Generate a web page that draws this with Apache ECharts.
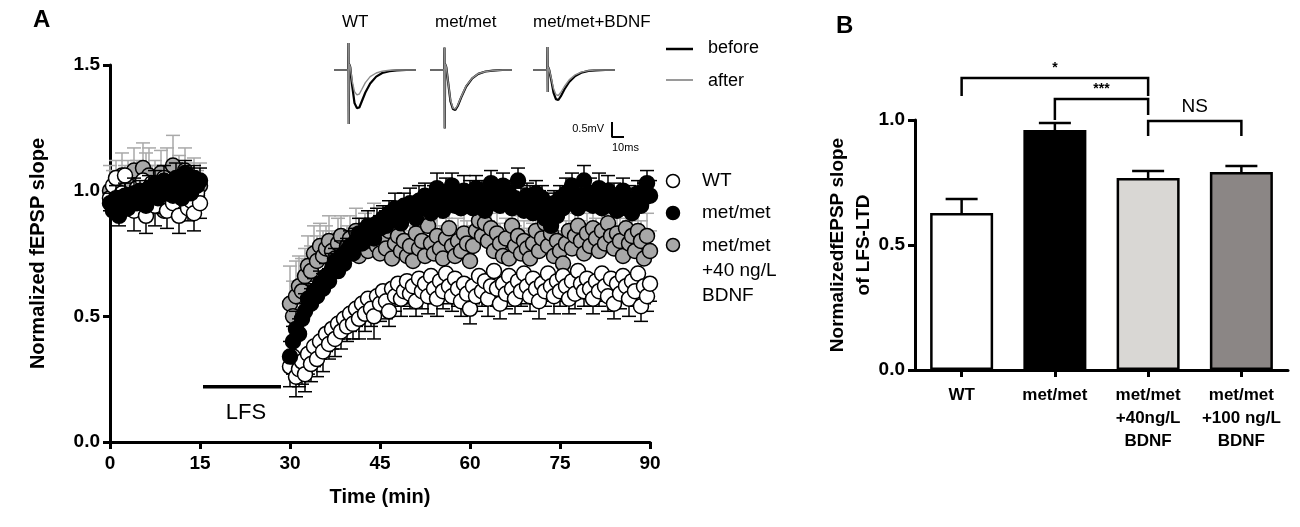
<!DOCTYPE html>
<html>
<head>
<meta charset="utf-8">
<script src="https://cdn.jsdelivr.net/npm/echarts@6.0.0/dist/echarts.min.js"></script>
<style>
html,body{margin:0;padding:0;background:#fff;}
#main{width:1300px;height:527px;}
</style>
</head>
<body>
<div id="main"></div>
<script>
// ---- panel A: time course, one sample every 30 s ----
var baseTimes = [0,0.5,1,1.5,2,2.5,3,3.5,4,4.5,5,5.5,6,6.5,7,7.5,8,8.5,9,9.5,
  10,10.5,11,11.5,12,12.5,13,13.5,14,14.5,15];
var postTimes = [30,30.5,31,31.5,32,32.5,33,33.5,34,34.5,35,35.5,36,36.5,37,37.5,38,38.5,39,39.5,
  40,40.5,41,41.5,42,42.5,43,43.5,44,44.5,45,45.5,46,46.5,47,47.5,48,48.5,49,49.5,
  50,50.5,51,51.5,52,52.5,53,53.5,54,54.5,55,55.5,56,56.5,57,57.5,58,58.5,59,59.5,
  60,60.5,61,61.5,62,62.5,63,63.5,64,64.5,65,65.5,66,66.5,67,67.5,68,68.5,69,69.5,
  70,70.5,71,71.5,72,72.5,73,73.5,74,74.5,75,75.5,76,76.5,77,77.5,78,78.5,79,79.5,
  80,80.5,81,81.5,82,82.5,83,83.5,84,84.5,85,85.5,86,86.5,87,87.5,88,88.5,89,89.5,90];

var wtBase = [0.97,1.02,1.05,0.93,0.99,1.06,0.95,0.98,0.92,1.01,0.96,1.04,0.90,0.99,1.03,0.94,
  1.00,0.97,1.05,0.92,0.98,0.95,1.02,0.90,0.97,1.01,0.93,0.96,0.91,0.99,0.95];
var metBase = [0.95,0.92,0.97,0.90,0.94,0.98,0.93,0.96,0.99,0.95,1.00,0.97,0.94,1.01,0.98,1.03,
  0.97,1.00,1.04,0.99,1.02,0.98,1.05,1.01,0.97,1.07,1.03,0.99,1.05,1.02,1.04];
var bdnfBase = [1.00,0.96,1.04,0.93,1.06,0.99,1.02,0.95,1.08,1.01,0.97,1.09,1.03,1.06,0.94,1.02,
  0.98,1.07,0.92,1.04,0.99,1.10,0.96,1.03,0.93,1.08,1.00,0.95,1.05,0.98,1.02];

var wtBaseErr = [0.05,0.06,0.05,0.07,0.05,0.06,0.05,0.06,0.08,0.05,0.06,0.05,0.07,0.05,0.06,0.08,
  0.05,0.06,0.05,0.07,0.06,0.05,0.06,0.07,0.05,0.06,0.05,0.06,0.07,0.05,0.06];
var metBaseErr = [0.04,0.05,0.05,0.04,0.06,0.05,0.04,0.05,0.06,0.05,0.04,0.05,0.06,0.05,0.06,0.05,
  0.04,0.05,0.06,0.05,0.04,0.05,0.06,0.05,0.04,0.05,0.06,0.05,0.05,0.04,0.05];
var bdnfBaseErr = [0.10,0.12,0.08,0.10,0.09,0.11,0.10,0.12,0.09,0.11,0.13,0.10,0.12,0.11,0.16,0.10,
  0.12,0.09,0.11,0.13,0.10,0.12,0.09,0.11,0.10,0.09,0.11,0.10,0.08,0.10,0.09];

var wtPost = [0.30,0.34,0.26,0.29,0.32,0.27,0.35,0.31,0.38,0.33,
  0.40,0.36,0.43,0.39,0.45,0.41,0.47,0.44,0.49,0.46,
  0.51,0.47,0.53,0.49,0.55,0.51,0.57,0.53,0.50,0.58,
  0.55,0.60,0.56,0.52,0.61,0.58,0.63,0.57,0.60,0.64,
  0.59,0.62,0.56,0.65,0.60,0.63,0.58,0.66,0.61,0.57,
  0.64,0.60,0.67,0.62,0.58,0.65,0.61,0.56,0.63,0.59,
  0.53,0.62,0.58,0.66,0.60,0.64,0.57,0.62,0.68,0.61,
  0.55,0.63,0.59,0.66,0.61,0.57,0.64,0.60,0.67,0.62,
  0.58,0.65,0.61,0.56,0.63,0.60,0.67,0.62,0.58,0.64,
  0.60,0.66,0.62,0.57,0.64,0.59,0.68,0.63,0.60,0.65,
  0.61,0.57,0.64,0.60,0.67,0.62,0.58,0.65,0.55,0.63,
  0.59,0.66,0.62,0.57,0.64,0.60,0.67,0.54,0.62,0.58,
  0.63];
var metPost = [0.34,0.40,0.45,0.43,0.49,0.52,0.57,0.55,0.60,0.58,
  0.63,0.61,0.66,0.64,0.69,0.72,0.68,0.74,0.71,0.76,
  0.78,0.75,0.80,0.83,0.79,0.82,0.86,0.84,0.81,0.87,
  0.85,0.89,0.86,0.91,0.88,0.93,0.90,0.87,0.94,0.91,
  0.95,0.92,0.89,0.96,0.93,0.98,0.94,0.91,0.97,1.01,
  0.95,0.92,0.99,0.96,1.02,0.94,0.97,0.93,1.00,0.96,
  0.98,0.93,1.01,0.95,0.99,0.92,0.97,1.03,0.95,0.98,
  0.94,1.02,0.96,0.99,0.93,0.97,1.04,0.95,0.92,0.98,
  0.96,0.91,0.99,0.94,0.97,0.89,0.93,0.86,0.95,0.90,
  0.97,0.93,0.99,0.95,1.02,0.96,0.93,0.98,1.04,0.95,
  0.99,0.94,0.97,1.01,0.93,0.96,1.00,0.94,0.98,0.92,
  0.96,1.00,0.93,0.97,0.91,0.95,0.99,0.94,0.97,1.03,
  0.98];
var bdnfPost = [0.55,0.50,0.58,0.62,0.60,0.66,0.70,0.68,0.75,0.72,
  0.78,0.74,0.77,0.80,0.76,0.73,0.79,0.82,0.75,0.78,
  0.81,0.77,0.84,0.74,0.79,0.83,0.76,0.80,0.86,0.78,
  0.75,0.81,0.77,0.84,0.73,0.79,0.82,0.76,0.80,0.74,
  0.78,0.72,0.83,0.77,0.80,0.74,0.86,0.79,0.75,0.82,
  0.77,0.73,0.81,0.85,0.78,0.74,0.80,0.76,0.83,0.79,
  0.72,0.78,0.84,0.88,0.82,0.87,0.80,0.85,0.76,0.83,
  0.79,0.74,0.81,0.73,0.86,0.78,0.82,0.75,0.80,0.77,
  0.73,0.79,0.84,0.76,0.81,0.87,0.78,0.83,0.74,0.80,
  0.76,0.71,0.79,0.84,0.77,0.82,0.86,0.80,0.75,0.83,
  0.78,0.85,0.81,0.76,0.84,0.79,0.87,0.82,0.77,0.83,
  0.80,0.74,0.85,0.79,0.82,0.76,0.84,0.80,0.73,0.82,
  0.76];

var wtPostErr = [0.08,0.07,0.08,0.07,0.09,0.07,0.08,0.07,0.08,0.07,
  0.07,0.08,0.07,0.06,0.08,0.07,0.06,0.07,0.08,0.06,
  0.07,0.06,0.07,0.08,0.06,0.07,0.06,0.07,0.09,0.06,
  0.07,0.06,0.07,0.06,0.07,0.06,0.06,0.07,0.06,0.07,
  0.06,0.07,0.06,0.06,0.07,0.06,0.07,0.06,0.06,0.07,
  0.06,0.07,0.06,0.07,0.06,0.06,0.07,0.06,0.07,0.06,
  0.06,0.07,0.06,0.07,0.06,0.06,0.07,0.06,0.06,0.07,
  0.06,0.07,0.06,0.06,0.07,0.06,0.07,0.06,0.06,0.07,
  0.06,0.07,0.06,0.07,0.06,0.06,0.07,0.06,0.07,0.06,
  0.06,0.07,0.06,0.06,0.07,0.06,0.07,0.06,0.06,0.07,
  0.07,0.06,0.07,0.06,0.07,0.06,0.06,0.07,0.06,0.07,
  0.06,0.07,0.06,0.07,0.06,0.06,0.07,0.06,0.07,0.06,
  0.07];
var metPostErr = [0.06,0.06,0.07,0.06,0.06,0.07,0.06,0.06,0.05,0.06,
  0.05,0.06,0.05,0.05,0.06,0.05,0.05,0.06,0.05,0.05,
  0.06,0.05,0.05,0.06,0.05,0.05,0.06,0.05,0.05,0.06,
  0.05,0.05,0.06,0.05,0.05,0.06,0.05,0.06,0.05,0.05,
  0.06,0.05,0.05,0.06,0.05,0.05,0.06,0.05,0.05,0.06,
  0.05,0.05,0.06,0.05,0.05,0.06,0.05,0.05,0.06,0.05,
  0.06,0.05,0.05,0.06,0.05,0.05,0.06,0.05,0.05,0.06,
  0.05,0.05,0.06,0.05,0.05,0.06,0.05,0.06,0.05,0.05,
  0.06,0.05,0.05,0.06,0.05,0.05,0.06,0.05,0.05,0.06,
  0.05,0.05,0.06,0.05,0.05,0.06,0.05,0.05,0.06,0.05,
  0.06,0.05,0.05,0.06,0.05,0.05,0.06,0.05,0.05,0.06,
  0.05,0.05,0.06,0.05,0.05,0.06,0.05,0.05,0.06,0.05,
  0.06];
var bdnfPostErr = [0.15,0.14,0.14,0.12,0.13,0.11,0.12,0.10,0.11,0.10,
  0.09,0.10,0.09,0.10,0.08,0.09,0.10,0.08,0.09,0.08,
  0.09,0.08,0.09,0.08,0.10,0.08,0.09,0.08,0.09,0.08,
  0.08,0.09,0.08,0.09,0.08,0.08,0.09,0.08,0.08,0.09,
  0.08,0.09,0.08,0.08,0.09,0.08,0.08,0.09,0.08,0.08,
  0.09,0.08,0.08,0.09,0.08,0.08,0.09,0.08,0.08,0.09,
  0.08,0.08,0.09,0.08,0.08,0.09,0.08,0.08,0.09,0.08,
  0.08,0.09,0.08,0.08,0.09,0.08,0.08,0.09,0.08,0.08,
  0.09,0.08,0.08,0.09,0.08,0.08,0.09,0.08,0.08,0.09,
  0.08,0.08,0.09,0.08,0.08,0.09,0.08,0.08,0.09,0.08,
  0.08,0.09,0.08,0.08,0.09,0.08,0.08,0.09,0.08,0.08,
  0.09,0.08,0.08,0.09,0.08,0.08,0.09,0.08,0.08,0.09,
  0.08];

var lfsStart = 15.5, lfsEnd = 28.5, lfsLevel = 0.22;

// ---- inset traces (ms, mV) ----
var traceTime = [0,8,11.8,12,12.2,12.6,13.5,15,17,19,21,23,26,30,35,40,46,52,60,68];
var wtBefore   = [0,0,0,0.90,-1.80,0.20,0.10,-0.50,-1.10,-1.27,-1.25,-1.05,-0.75,-0.45,-0.22,-0.10,-0.04,-0.01,0,0];
var wtAfter    = [0,0,0,0.90,-1.80,0.20,0.10,-0.35,-0.72,-0.83,-0.80,-0.65,-0.42,-0.22,-0.10,-0.04,-0.01,0,0,0];
var metBefore  = [0,0,0,0.75,-1.95,0.20,0.10,-0.40,-1.05,-1.30,-1.33,-1.20,-0.90,-0.55,-0.28,-0.13,-0.05,-0.02,0,0];
var metAfter   = [0,0,0,0.75,-1.95,0.20,0.10,-0.40,-1.00,-1.27,-1.30,-1.17,-0.88,-0.53,-0.27,-0.12,-0.05,-0.02,0,0];
var bdnfBefore = [0,0,0,0.77,-0.73,0.10,0,-0.30,-0.75,-0.97,-1.00,-0.88,-0.65,-0.40,-0.20,-0.09,-0.03,-0.01,0,0];
var bdnfAfter  = [0,0,0,0.77,-0.73,0.10,0,-0.25,-0.62,-0.82,-0.85,-0.75,-0.55,-0.33,-0.16,-0.07,-0.02,0,0,0];
var scaleBar = [[0, 0.5], [0, 0], [10, 0]];

// ---- panel B: LFS-LTD ----
var groups = ['WT', 'met/met', 'met/met\n+40ng/L\nBDNF', 'met/met\n+100 ng/L\nBDNF'];
var ltdMean = [0.628, 0.960, 0.768, 0.792];
var ltdSem  = [0.056, 0.028, 0.028, 0.024];
var barColors = ['#ffffff', '#000000', '#d9d7d4', '#8b8685'];
var bracketFrom  = [0, 1, 2];
var bracketTo    = [2, 2, 3];
var bracketTop   = [1.168, 1.084, 0.996];
var bracketLeft  = [1.096, 1.000, 0.936];
var bracketRight = [1.096, 1.020, 0.936];
var bracketText  = ['*', '***', 'NS'];

var FONT = '"Liberation Sans", Arial, sans-serif';

function pairs(xs, ys) {
  return xs.map(function (x, i) { return [x, ys[i]]; });
}
function triples(xs, ys, es) {
  return xs.map(function (x, i) { return [x, ys[i], es[i]]; });
}

// vertical error bar with a cap, dir 1 = up, -1 = down
function errBars(dir, color, capHalf, width) {
  return function (params, api) {
    var x = api.value(0), y = api.value(1), e = api.value(2);
    var p0 = api.coord([x, y]);
    var p1 = api.coord([x, y + dir * e]);
    return {
      type: 'group',
      children: [
        { type: 'line', shape: { x1: p0[0], y1: p0[1], x2: p1[0], y2: p1[1] },
          style: { stroke: color, lineWidth: width } },
        { type: 'line', shape: { x1: p1[0] - capHalf, y1: p1[1], x2: p1[0] + capHalf, y2: p1[1] },
          style: { stroke: color, lineWidth: width } }
      ]
    };
  };
}

var allTimes = baseTimes.concat(postTimes);
var wtAll = wtBase.concat(wtPost), wtErrAll = wtBaseErr.concat(wtPostErr);
var metAll = metBase.concat(metPost), metErrAll = metBaseErr.concat(metPostErr);
var bdnfAll = bdnfBase.concat(bdnfPost), bdnfErrAll = bdnfBaseErr.concat(bdnfPostErr);

var tickBlack = { show: true, length: 7, lineStyle: { color: '#000', width: 3 } };
var traceLefts = [334, 430, 533];
var SYM = 15;

var myChart = echarts.init(document.getElementById('main'));

var series = [];
// panel A: gray first, then WT, then met/met on top
series.push({ type: 'custom', xAxisIndex: 0, yAxisIndex: 0, renderItem: errBars(1, '#a9a9a9', 7, 1.5),
  data: triples(allTimes, bdnfAll, bdnfErrAll), encode: { x: 0, y: 1 }, z: 2 });
series.push({ type: 'scatter', name: 'met/met +40 ng/L BDNF', xAxisIndex: 0, yAxisIndex: 0,
  data: pairs(allTimes, bdnfAll), symbolSize: SYM,
  itemStyle: { color: '#a8a8a8', borderColor: '#000', borderWidth: 1.5, opacity: 1 }, z: 3 });
series.push({ type: 'custom', xAxisIndex: 0, yAxisIndex: 0, renderItem: errBars(-1, '#000', 7, 1.5),
  data: triples(allTimes, wtAll, wtErrAll), encode: { x: 0, y: 1 }, z: 4 });
series.push({ type: 'scatter', name: 'WT', xAxisIndex: 0, yAxisIndex: 0,
  data: pairs(allTimes, wtAll), symbolSize: SYM,
  itemStyle: { color: '#fff', borderColor: '#000', borderWidth: 1.5, opacity: 1 }, z: 5 });
series.push({ type: 'custom', xAxisIndex: 0, yAxisIndex: 0, renderItem: errBars(1, '#000', 7, 1.5),
  data: triples(allTimes, metAll, metErrAll), encode: { x: 0, y: 1 }, z: 6 });
series.push({ type: 'scatter', name: 'met/met', xAxisIndex: 0, yAxisIndex: 0,
  data: pairs(allTimes, metAll), symbolSize: SYM,
  itemStyle: { color: '#000', borderColor: '#000', borderWidth: 1.5, opacity: 1 }, z: 7 });
// LFS bar
series.push({ type: 'line', xAxisIndex: 0, yAxisIndex: 0, data: [[lfsStart, lfsLevel], [lfsEnd, lfsLevel]],
  showSymbol: false, lineStyle: { color: '#000', width: 3.5 }, z: 8 });

// inset traces
var traceSets = [[wtBefore, wtAfter], [metBefore, metAfter], [bdnfBefore, bdnfAfter]];
traceSets.forEach(function (set, i) {
  series.push({ type: 'line', xAxisIndex: 2 + i, yAxisIndex: 2 + i, data: pairs(traceTime, set[0]),
    showSymbol: false, lineStyle: { color: '#000', width: 2.2 }, z: 3 });
  series.push({ type: 'line', xAxisIndex: 2 + i, yAxisIndex: 2 + i, data: pairs(traceTime, set[1]),
    showSymbol: false, lineStyle: { color: '#8c8c8c', width: 1.4 }, z: 4 });
});
series.push({ type: 'line', xAxisIndex: 5, yAxisIndex: 5, data: scaleBar,
  showSymbol: false, lineStyle: { color: '#000', width: 2 } });

// panel B bars
series.push({ type: 'bar', xAxisIndex: 1, yAxisIndex: 1, barWidth: 63,
  data: ltdMean.map(function (v, i) {
    return { value: v, itemStyle: { color: barColors[i] } };
  }),
  itemStyle: { borderColor: '#000', borderWidth: 2.5 }, z: 3 });
series.push({ type: 'custom', xAxisIndex: 1, yAxisIndex: 1, renderItem: errBars(1, '#000', 16, 2.5),
  data: triples([0, 1, 2, 3], ltdMean, ltdSem), encode: { x: 0, y: 1 }, z: 2 });
// significance brackets
series.push({ type: 'custom', xAxisIndex: 1, yAxisIndex: 1, clip: false,
  data: bracketFrom.map(function (f, i) {
    return [f, bracketTo[i], bracketTop[i], bracketLeft[i], bracketRight[i], i];
  }),
  encode: { x: [0, 1], y: [2, 3, 4] },
  renderItem: function (params, api) {
    var a = api.value(0), b = api.value(1), top = api.value(2);
    var l = api.value(3), r = api.value(4), k = api.value(5);
    var pl = api.coord([a, top]), pr = api.coord([b, top]);
    var ll = api.coord([a, l]), rr = api.coord([b, r]);
    var t = bracketText[k];
    var isNS = t === 'NS';
    return {
      type: 'group',
      children: [
        { type: 'polyline', shape: { points: [[ll[0], ll[1]], [pl[0], pl[1]], [pr[0], pr[1]], [rr[0], rr[1]]] },
          style: { stroke: '#000', lineWidth: 2.5, fill: null } },
        { type: 'text', x: (pl[0] + pr[0]) / 2, y: pl[1] - (isNS ? 5 : 3),
          style: { text: t, fill: '#000', align: 'center', verticalAlign: 'bottom',
            font: (isNS ? 'normal 19px ' : 'bold 14px ') + FONT } }
      ]
    };
  }, z: 4 });

var option = {
  backgroundColor: '#fff',
  animation: false,
  textStyle: { fontFamily: FONT },
  grid: [
    { left: 110, top: 65, width: 540, height: 377 },
    { left: 915, top: 120, width: 373, height: 250 },
    { left: traceLefts[0], top: 37, width: 82, height: 99 },
    { left: traceLefts[1], top: 37, width: 82, height: 99 },
    { left: traceLefts[2], top: 37, width: 82, height: 99 },
    { left: 612, top: 122, width: 12, height: 15 }
  ],
  xAxis: [
    { type: 'value', gridIndex: 0, min: 0, max: 90, interval: 15,
      name: 'Time (min)', nameLocation: 'middle', nameGap: 45,
      nameTextStyle: { fontSize: 20, fontWeight: 'bold', color: '#000', fontFamily: FONT },
      axisLine: { show: true, onZero: false, lineStyle: { color: '#000', width: 3 } },
      axisTick: tickBlack, splitLine: { show: false },
      axisLabel: { fontSize: 19, fontWeight: 'bold', color: '#000', margin: 12, fontFamily: FONT } },
    { type: 'category', gridIndex: 1, data: groups,
      axisLine: { lineStyle: { color: '#000', width: 3 } },
      axisTick: { show: true, alignWithLabel: true, length: 7, lineStyle: { color: '#000', width: 3 } },
      axisLabel: { fontSize: 17, fontWeight: 'bold', color: '#000', margin: 14, lineHeight: 23, fontFamily: FONT, interval: 0 } },
    { type: 'value', gridIndex: 2, min: 0, max: 68, show: false },
    { type: 'value', gridIndex: 3, min: 0, max: 68, show: false },
    { type: 'value', gridIndex: 4, min: 0, max: 68, show: false },
    { type: 'value', gridIndex: 5, min: 0, max: 10, show: false }
  ],
  yAxis: [
    { type: 'value', gridIndex: 0, min: 0, max: 1.5, interval: 0.5,
      name: 'Normalized fEPSP slope', nameLocation: 'middle', nameGap: 62,
      nameTextStyle: { fontSize: 20, fontWeight: 'bold', color: '#000', fontFamily: FONT },
      axisLine: { show: true, lineStyle: { color: '#000', width: 3 } },
      axisTick: tickBlack, splitLine: { show: false },
      axisLabel: { fontSize: 19, fontWeight: 'bold', color: '#000', margin: 10, fontFamily: FONT,
        formatter: function (v) { return v.toFixed(1); } } },
    { type: 'value', gridIndex: 1, min: 0, max: 1.0, interval: 0.5,
      name: 'NormalizedfEPSP slope\nof LFS-LTD', nameLocation: 'middle', nameGap: 38, nameMoveOverlap: false,
      nameTextStyle: { fontSize: 19, fontWeight: 'bold', color: '#000', lineHeight: 26, fontFamily: FONT },
      axisLine: { show: true, lineStyle: { color: '#000', width: 3 } },
      axisTick: tickBlack, splitLine: { show: false },
      axisLabel: { fontSize: 19, fontWeight: 'bold', color: '#000', margin: 10, fontFamily: FONT,
        formatter: function (v) { return v.toFixed(1); } } },
    { type: 'value', gridIndex: 2, min: -2.2, max: 1.1, show: false },
    { type: 'value', gridIndex: 3, min: -2.2, max: 1.1, show: false },
    { type: 'value', gridIndex: 4, min: -2.2, max: 1.1, show: false },
    { type: 'value', gridIndex: 5, min: 0, max: 0.5, show: false }
  ],
  graphic: [
    { type: 'text', left: 33, top: 8, style: { text: 'A', font: 'bold 24px ' + FONT, fill: '#000' } },
    { type: 'text', left: 836, top: 14, style: { text: 'B', font: 'bold 24px ' + FONT, fill: '#000' } },
    { type: 'text', x: 246, y: 413, style: { text: 'LFS', font: 'normal 22px ' + FONT, fill: '#000', align: 'center', verticalAlign: 'middle' } },
    // inset labels
    { type: 'text', x: 342, y: 22, style: { text: 'WT', font: 'normal 17px ' + FONT, fill: '#000', verticalAlign: 'middle' } },
    { type: 'text', x: 435, y: 22, style: { text: 'met/met', font: 'normal 17px ' + FONT, fill: '#000', verticalAlign: 'middle' } },
    { type: 'text', x: 533, y: 22, style: { text: 'met/met+BDNF', font: 'normal 17px ' + FONT, fill: '#000', verticalAlign: 'middle' } },
    { type: 'text', x: 604, y: 129, style: { text: '0.5mV', font: 'normal 11px ' + FONT, fill: '#000', align: 'right', verticalAlign: 'middle' } },
    { type: 'text', x: 612, y: 148, style: { text: '10ms', font: 'normal 11px ' + FONT, fill: '#000', verticalAlign: 'middle' } },
    // before / after key
    { type: 'line', shape: { x1: 666, y1: 49, x2: 693, y2: 49 }, style: { stroke: '#000', lineWidth: 2.5 } },
    { type: 'line', shape: { x1: 666, y1: 80, x2: 693, y2: 80 }, style: { stroke: '#9a9a9a', lineWidth: 2 } },
    { type: 'text', x: 708, y: 48, style: { text: 'before', font: 'normal 18px ' + FONT, fill: '#000', verticalAlign: 'middle' } },
    { type: 'text', x: 708, y: 81, style: { text: 'after', font: 'normal 18px ' + FONT, fill: '#000', verticalAlign: 'middle' } },
    // group key
    { type: 'circle', shape: { cx: 673, cy: 181, r: 6.5 }, style: { fill: '#fff', stroke: '#000', lineWidth: 1.5 } },
    { type: 'circle', shape: { cx: 673, cy: 213, r: 6.5 }, style: { fill: '#000', stroke: '#000', lineWidth: 1.5 } },
    { type: 'circle', shape: { cx: 673, cy: 245, r: 6.5 }, style: { fill: '#a8a8a8', stroke: '#000', lineWidth: 1.5 } },
    { type: 'text', x: 702, y: 181, style: { text: 'WT', font: 'normal 19px ' + FONT, fill: '#000', verticalAlign: 'middle' } },
    { type: 'text', x: 702, y: 213, style: { text: 'met/met', font: 'normal 19px ' + FONT, fill: '#000', verticalAlign: 'middle' } },
    { type: 'text', left: 702, top: 233, style: { text: 'met/met\n+40 ng/L\nBDNF', font: 'normal 19px ' + FONT, fill: '#000', lineHeight: 25 } }
  ],
  series: series
};

myChart.setOption(option);
</script>
</body>
</html>
